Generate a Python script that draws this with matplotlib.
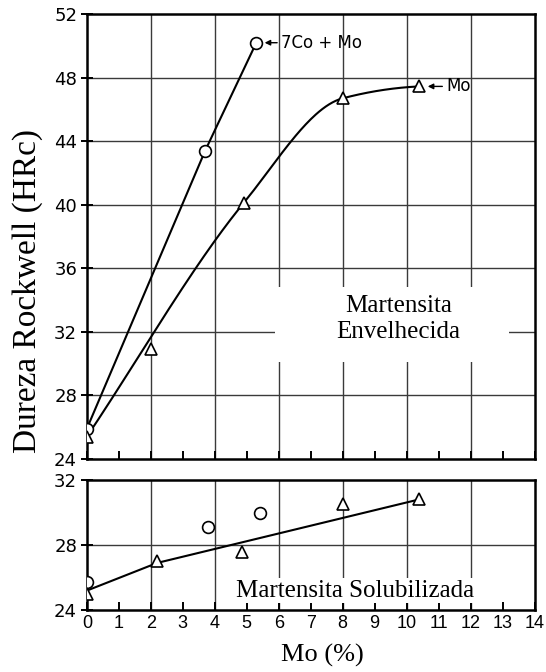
import numpy as np
import matplotlib
matplotlib.use("Agg")
import matplotlib.pyplot as plt
from matplotlib.patches import Rectangle

# envelhecida (aged) hardness vs Mo content
co_x = [0, 3.7, 5.3]
co_y = [25.9, 43.4, 50.2]
mo_x = [0, 2, 4.9, 8, 10.4]
mo_y = [25.4, 30.9, 40.1, 46.7, 47.45]

# smooth curve drawn through these Mo points (the 2% point sits just below it)
mo_curve_x = [0, 4.9, 8, 10.4]
mo_curve_y = [25.4, 40.1, 46.7, 47.45]

# solubilizada (solution treated)
sol_co_x = [0, 3.8, 5.4]
sol_co_y = [25.7, 29.1, 29.95]
sol_mo_x = [0, 2.2, 4.85, 8, 10.4]
sol_mo_y = [25.0, 27.0, 27.6, 30.5, 30.8]
sol_fit_x = [0, 2.2, 10.4]
sol_fit_y = [25.2, 26.9, 30.8]

xticks = list(range(0, 15))


def pchip(x, y, xs):
    x = np.asarray(x, float)
    y = np.asarray(y, float)
    h = np.diff(x)
    d = np.diff(y) / h
    n = len(x)
    m = np.zeros(n)
    m[0] = d[0]
    m[-1] = d[-1] * 0.3
    for k in range(1, n - 1):
        if d[k - 1] * d[k] > 0:
            w1 = 2 * h[k] + h[k - 1]
            w2 = h[k] + 2 * h[k - 1]
            m[k] = (w1 + w2) / (w1 / d[k - 1] + w2 / d[k])
    idx = np.clip(np.searchsorted(x, xs) - 1, 0, n - 2)
    t = (xs - x[idx]) / h[idx]
    h00 = 2 * t**3 - 3 * t**2 + 1
    h10 = t**3 - 2 * t**2 + t
    h01 = -2 * t**3 + 3 * t**2
    h11 = t**3 - t**2
    return h00 * y[idx] + h10 * h[idx] * m[idx] + h01 * y[idx + 1] + h11 * h[idx] * m[idx + 1]


plt.rcParams['font.size'] = 13
serif = 'Liberation Serif'
gridc = '#3a3a3a'

fig = plt.figure(figsize=(5.46, 6.72), dpi=100)
ax1 = fig.add_axes([0.159, 0.317, 0.82, 0.662])
ax2 = fig.add_axes([0.159, 0.092, 0.82, 0.194])

for ax in (ax1, ax2):
    ax.set_xlim(0, 14)
    for s in ax.spines.values():
        s.set_linewidth(1.8)
    for gx in range(2, 14, 2):
        ax.axvline(gx, color=gridc, lw=1.0, zorder=1)
    ax.set_xticks(xticks)
    ax.tick_params(axis='x', direction='in', length=6, width=1.4)
    ax.tick_params(axis='y', direction='inout', length=8, width=1.4, pad=3)

# top panel
ax1.set_ylim(24, 52)
ax1.set_yticks(range(24, 53, 4))
ax1.tick_params(axis='x', labelbottom=False)
for gy in range(28, 52, 4):
    ax1.axhline(gy, color=gridc, lw=1.0, zorder=1)
ax1.add_patch(Rectangle((5.9, 30.1), 7.3, 4.7, facecolor='white', edgecolor='none', zorder=2))

ax1.plot(co_x, co_y, color='black', lw=1.5, zorder=3)
xs = np.linspace(mo_curve_x[0], mo_curve_x[-1], 200)
ax1.plot(xs, pchip(mo_curve_x, mo_curve_y, xs), color='black', lw=1.5, zorder=3)
ax1.plot(co_x, co_y, 'o', ms=8.5, mfc='white', mec='black', mew=1.2, ls='none', zorder=4)
ax1.plot(mo_x, mo_y, '^', ms=8, mfc='white', mec='black', mew=1.2, ls='none', zorder=4)

arrow = dict(arrowstyle='-|>', color='black', lw=1.0, mutation_scale=8, shrinkA=1, shrinkB=6)
ax1.annotate('7Co + Mo', xy=(co_x[-1], co_y[-1]), xytext=(18, 0), textcoords='offset points',
             ha='left', va='center', fontsize=12, arrowprops=arrow)
ax1.annotate('Mo', xy=(mo_x[-1], mo_y[-1]), xytext=(19.5, 0), textcoords='offset points',
             ha='left', va='center', fontsize=12, arrowprops=arrow)
ax1.text(9.75, 32.8, 'Martensita\nEnvelhecida', family=serif, fontsize=18,
         ha='center', va='center', linespacing=1.25, zorder=5)

# bottom panel
ax2.set_ylim(24, 32)
ax2.set_yticks([24, 28, 32])
ax2.axhline(28, color=gridc, lw=1.0, zorder=1)
ax2.plot(sol_fit_x, sol_fit_y, color='black', lw=1.5, zorder=3)
ax2.plot(sol_co_x, sol_co_y, 'o', ms=8.5, mfc='white', mec='black', mew=1.2, ls='none', zorder=4)
ax2.plot(sol_mo_x, sol_mo_y, '^', ms=8, mfc='white', mec='black', mew=1.2, ls='none', zorder=4)
ax2.text(8.4, 25.2, 'Martensita Solubilizada', family=serif, fontsize=18, ha='center', va='center',
         bbox=dict(facecolor='white', edgecolor='none', pad=1), zorder=5)
for lab in ax2.get_xticklabels():
    lab.set_family('Liberation Sans')

fig.text(0.05, 0.567, 'Dureza Rockwell (HRc)', family=serif, fontsize=24, rotation=90,
         ha='center', va='center')
fig.text(0.59, 0.024, 'Mo (%)', family=serif, fontsize=19, ha='center', va='center')

fig.savefig('out.png', dpi=100)
